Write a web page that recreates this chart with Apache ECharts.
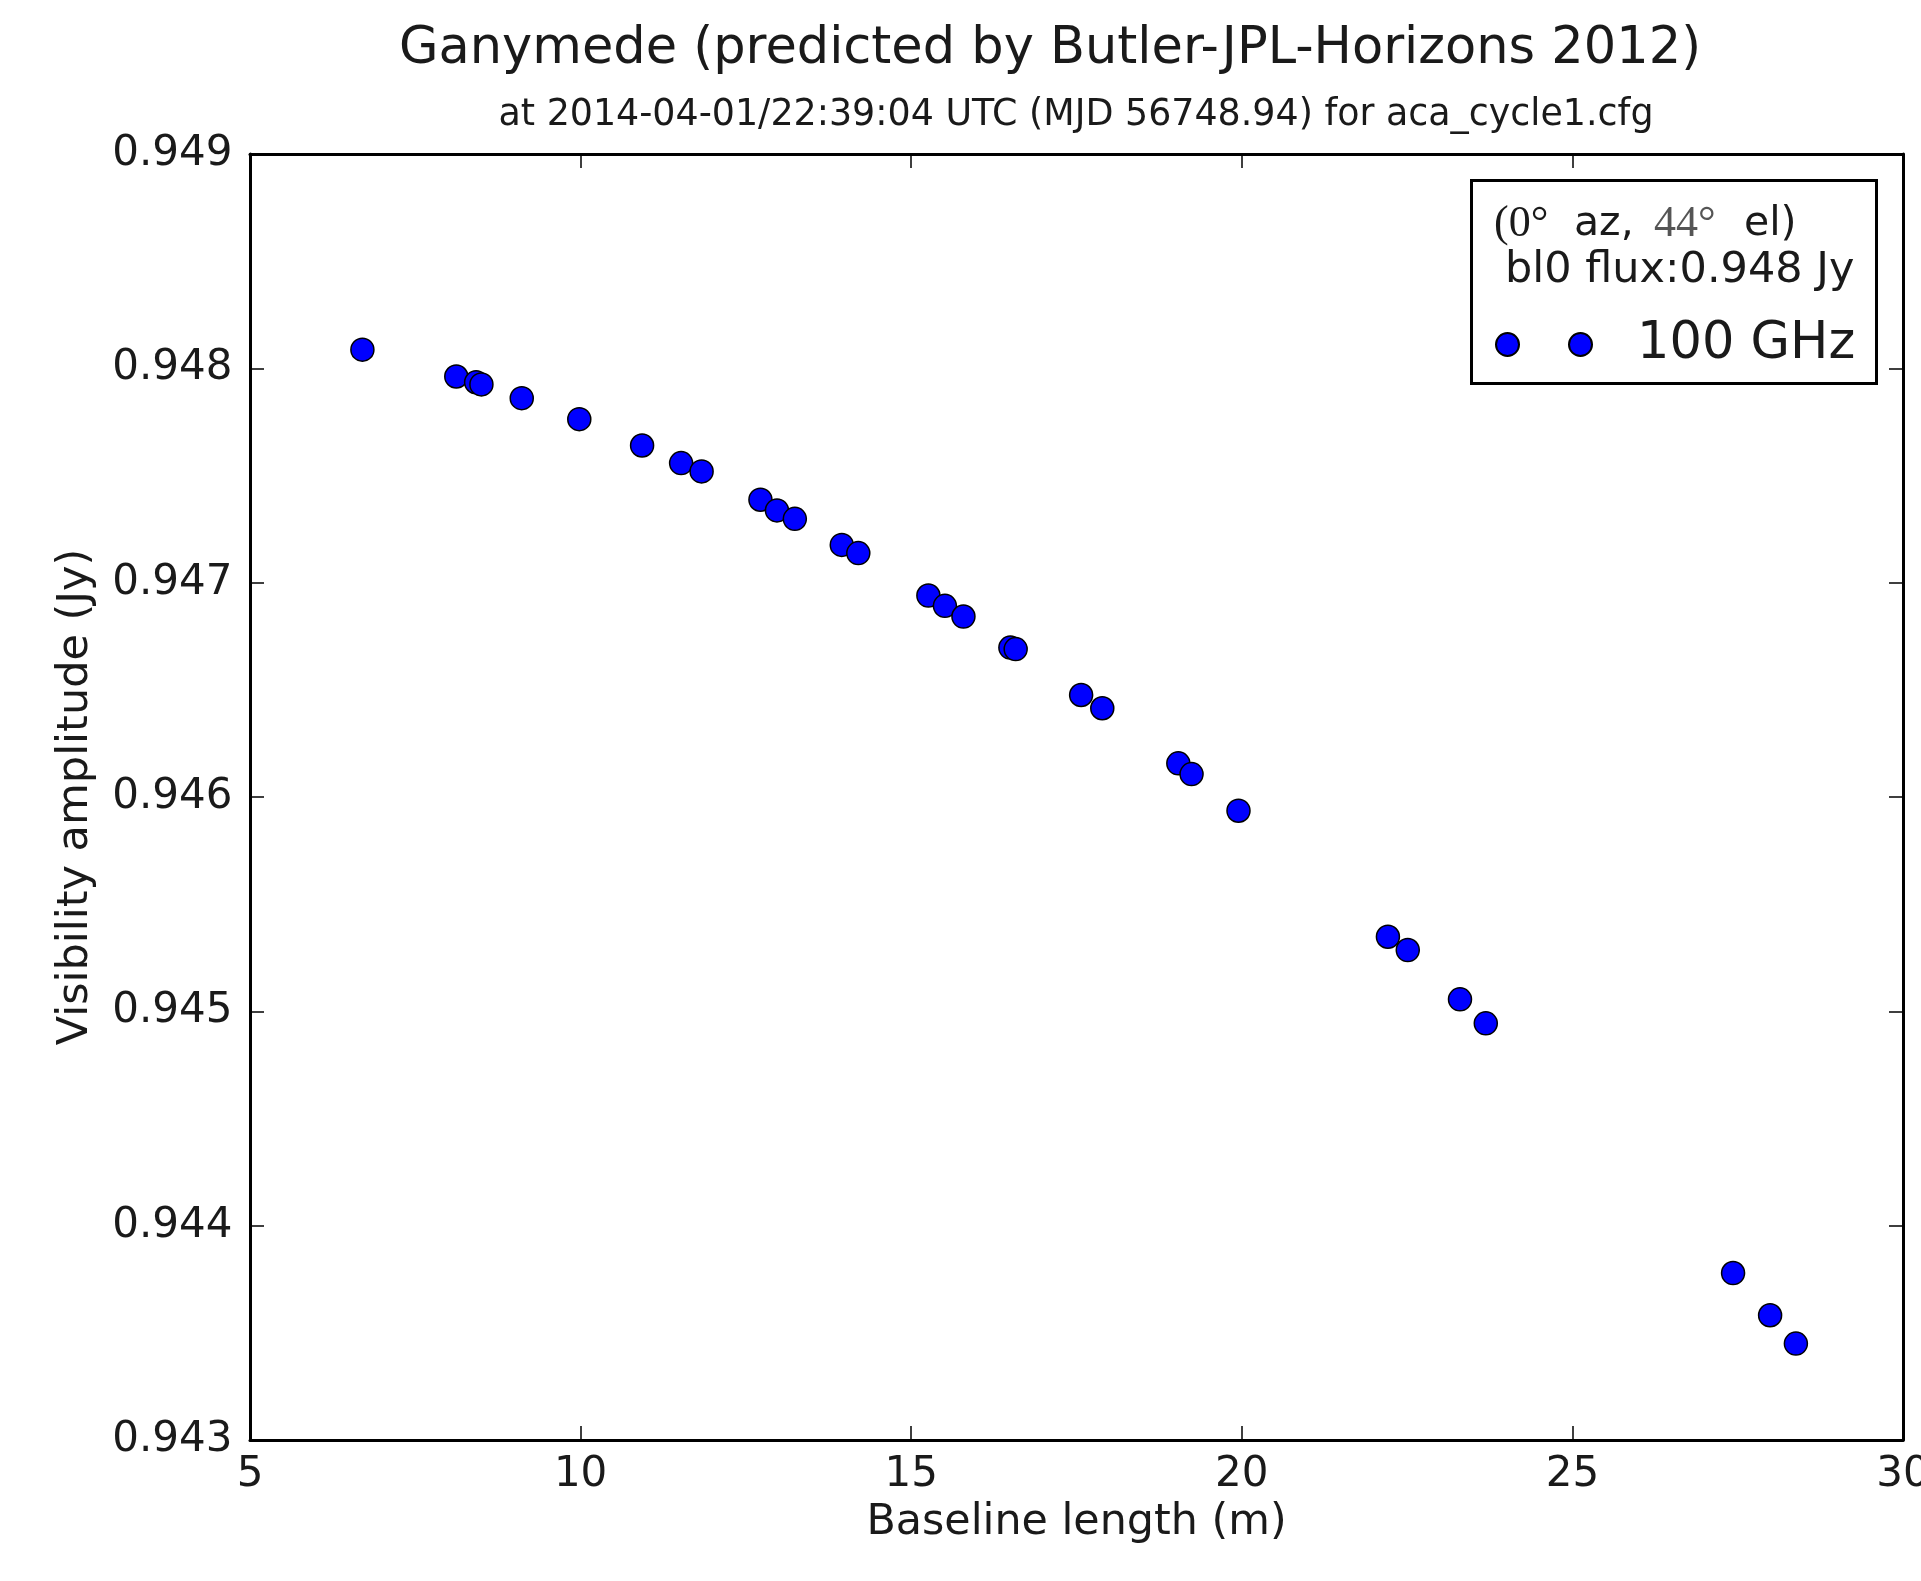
<!DOCTYPE html>
<html>
<head>
<meta charset="utf-8">
<script src="https://cdn.jsdelivr.net/npm/echarts@6/dist/echarts.min.js"></script>
<style>
html,body{margin:0;padding:0;background:#fff;overflow:hidden;}
#chart{width:1921px;height:1581px;}
</style>
</head>
<body>
<div id="chart"></div>
<script>
// Baseline length (m)
const baseline = [6.70, 8.12, 8.42, 8.50, 9.11, 9.98, 10.93, 11.52, 11.83, 12.72, 12.97, 13.24, 13.95, 14.20, 15.26, 15.51, 15.79, 16.50, 16.58, 17.57, 17.89, 19.04, 19.24, 19.95, 22.21, 22.51, 23.30, 23.69, 27.43, 27.99, 28.38];
// Visibility amplitude (Jy)
const amplitude = [0.948087, 0.947962, 0.947935, 0.947925, 0.947861, 0.947763, 0.947640, 0.947558, 0.947519, 0.947387, 0.947337, 0.947298, 0.947176, 0.947138, 0.946940, 0.946892, 0.946842, 0.946697, 0.946690, 0.946476, 0.946414, 0.946157, 0.946107, 0.945936, 0.945348, 0.945286, 0.945056, 0.944944, 0.943779, 0.943582, 0.943450];
const seriesName = '100 GHz';
const xTicks = {min: 5, max: 30, interval: 5};
const yTicks = {min: 0.943, max: 0.949, interval: 0.001};

const FONT = 'DejaVu Sans';
const SERIF = 'Liberation Serif';
const TXT = '#1a1a1a';
const chart = echarts.init(document.getElementById('chart'), null, {renderer: 'canvas'});

const points = baseline.map((b, i) => [b, amplitude[i]]);

const axisCommon = {
  axisLine: {show: true, onZero: false, lineStyle: {color: '#000', width: 3}},
  axisTick: {show: true, inside: true, length: 14, lineStyle: {color: '#000', width: 1.5}},
  splitLine: {show: false}
};

chart.setOption({
  backgroundColor: '#fff',
  animation: false,
  title: [
    {text: 'Ganymede (predicted by Butler-JPL-Horizons 2012)', left: 1050, top: 24, padding: 0,
     textAlign: 'center', textVerticalAlign: 'top',
     textStyle: {fontFamily: FONT, fontSize: 51, fontWeight: 'normal', color: TXT}},
    {text: 'at 2014-04-01/22:39:04 UTC (MJD 56748.94) for aca_cycle1.cfg', left: 1076, top: 98, padding: 0,
     textAlign: 'center', textVerticalAlign: 'top',
     textStyle: {fontFamily: FONT, fontSize: 36.4, fontWeight: 'normal', color: TXT}}
  ],
  grid: {left: 250, top: 154, width: 1653, height: 1286, containLabel: false, outerBoundsMode: 'none'},
  xAxis: [
    Object.assign({}, axisCommon, {
      type: 'value', position: 'bottom', min: xTicks.min, max: xTicks.max, interval: xTicks.interval,
      name: 'Baseline length (m)', nameLocation: 'middle', nameGap: 59,
      nameTextStyle: {fontFamily: FONT, fontSize: 42.8, color: TXT},
      axisLabel: {fontFamily: FONT, fontSize: 42, color: TXT, margin: 14}
    }),
    Object.assign({}, axisCommon, {
      type: 'value', position: 'top', min: xTicks.min, max: xTicks.max, interval: xTicks.interval,
      axisLabel: {show: false}
    })
  ],
  yAxis: [
    Object.assign({}, axisCommon, {
      type: 'value', position: 'left', min: yTicks.min, max: yTicks.max, interval: yTicks.interval,
      name: 'Visibility amplitude (Jy)', nameLocation: 'middle', nameGap: 153,
      nameTextStyle: {fontFamily: FONT, fontSize: 43, color: TXT},
      axisLabel: {fontFamily: FONT, fontSize: 42, color: TXT, margin: 17.5,
        formatter: v => v.toFixed(3)}
    }),
    Object.assign({}, axisCommon, {
      type: 'value', position: 'right', min: yTicks.min, max: yTicks.max, interval: yTicks.interval,
      axisLabel: {show: false}
    })
  ],
  legend: {
    show: true,
    left: 1495, top: 319, padding: 0,
    itemWidth: 96, itemHeight: 23,
    data: [{name: seriesName,
      icon: 'path://M0,11.5a11.5,11.5 0 1,0 23,0a11.5,11.5 0 1,0 -23,0zM73,11.5a11.5,11.5 0 1,0 23,0a11.5,11.5 0 1,0 -23,0z'}],
    textStyle: {fontFamily: FONT, fontSize: 51, color: TXT, padding: [0, 0, 0, 40]}
  },
  graphic: [
    {type: 'rect', left: 1470, top: 179, z: 10, silent: true,
     shape: {width: 405, height: 203},
     style: {fill: 'rgba(0,0,0,0)', stroke: '#000', lineWidth: 3}},
    {type: 'text', left: 1494, top: 202, z: 11, silent: true,
     style: {text: '(0°', fontFamily: SERIF, fontSize: 44, fill: TXT}},
    {type: 'text', left: 1574, top: 203.5, z: 11, silent: true,
     style: {text: 'az,', fontFamily: FONT, fontSize: 41, fill: TXT}},
    {type: 'text', left: 1654, top: 202, z: 11, silent: true,
     style: {text: '44°', fontFamily: SERIF, fontSize: 44, fill: '#555'}},
    {type: 'text', left: 1744, top: 203.5, z: 11, silent: true,
     style: {text: 'el)', fontFamily: FONT, fontSize: 41, fill: TXT}},
    {type: 'text', left: 1505, top: 249, z: 11, silent: true,
     style: {text: 'bl0 flux:0.948 Jy', fontFamily: FONT, fontSize: 43, fill: TXT}}
  ],
  series: [{
    name: seriesName,
    type: 'scatter',
    xAxisIndex: 0, yAxisIndex: 0,
    symbol: 'circle', symbolSize: 23,
    itemStyle: {color: '#0000ff', borderColor: '#000', borderWidth: 1.5, opacity: 1},
    data: points
  }]
});
</script>
</body>
</html>
